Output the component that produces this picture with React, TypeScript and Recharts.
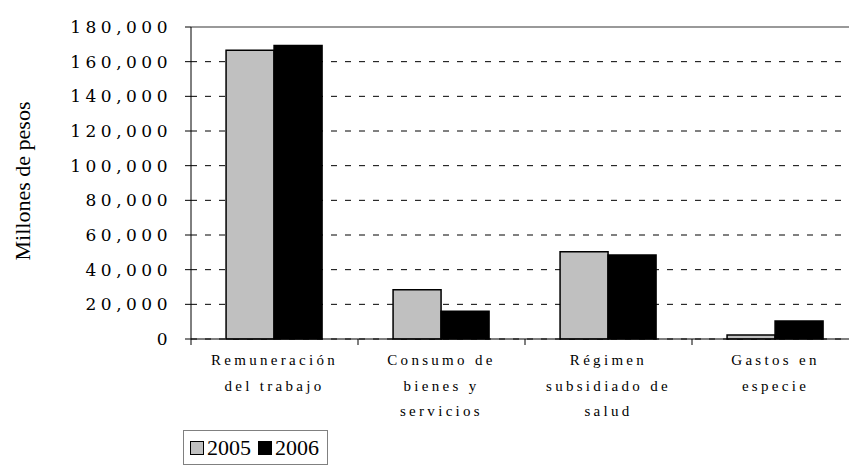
import React from 'react';
import {
  BarChart, Bar, XAxis, YAxis, CartesianGrid, ReferenceLine
} from 'recharts';

const categories = ['Remuneración del trabajo', 'Consumo de bienes y servicios', 'Régimen subsidiado de salud', 'Gastos en especie'];
const categoryLines = [
  ['Remuneración', 'del trabajo'],
  ['Consumo de', 'bienes y', 'servicios'],
  ['Régimen', 'subsidiado de', 'salud'],
  ['Gastos en', 'especie'],
];
const values2005 = [166600, 28400, 50400, 2300];
const values2006 = [169300, 16000, 48500, 10400];
const yTicks = [0, 20000, 40000, 60000, 80000, 100000, 120000, 140000, 160000, 180000];

const data = categories.map((c, i) => ({
  name: c,
  '2005': values2005[i],
  '2006': values2006[i],
}));

const CHART_W = 870;
const PLOT_LEFT = 191;
const MARGIN_RIGHT = 11;
const BAND = (CHART_W - PLOT_LEFT - MARGIN_RIGHT) / categories.length;
const SERIF = "'Liberation Serif', 'Times New Roman', serif";

const fmt = (v: number) => v.toLocaleString('en-US');

const CategoryTick = (props: any) => {
  const { x, y, index } = props;
  const lines = categoryLines[index] || [];
  const left = x - BAND / 2;
  return (
    <g>
      <line x1={left} x2={left} y1={y - 8} y2={y - 2} stroke="#000" strokeWidth={1} />
      {index === categories.length - 1 && (
        <line x1={left + BAND} x2={left + BAND} y1={y - 8} y2={y - 2} stroke="#000" strokeWidth={1} />
      )}
      <text
        x={x}
        y={y + 18}
        textAnchor="middle"
        style={{ fontFamily: SERIF, fontSize: 15, letterSpacing: 3.3 }}
        fill="#000"
      >
        {lines.map((l, i) => (
          <tspan key={i} x={x} dy={i === 0 ? 0 : 25.5}>{l}</tspan>
        ))}
      </text>
    </g>
  );
};

const YTick = (props: any) => {
  const { x, y, payload } = props;
  return (
    <text
      x={x}
      y={y}
      dy={6}
      textAnchor="end"
      style={{ fontFamily: "'DejaVu Serif', serif", fontSize: 17, letterSpacing: 4.5 }}
      fill="#000"
    >
      {fmt(payload.value)}
    </text>
  );
};

const YLabel = () => (
  <text
    x={0}
    y={0}
    transform="translate(30,181) rotate(-90)"
    textAnchor="middle"
    style={{ fontFamily: SERIF, fontSize: 22 }}
    fill="#000"
  >
    Millones de pesos
  </text>
);

const Swatch = ({ color }: { color: string }) => (
  <span style={{
    display: 'inline-block', width: 12, height: 12, background: color,
    border: '1px solid #000', marginRight: 3, verticalAlign: 'middle', position: 'relative', top: -2,
  }} />
);

export default function App() {
  return (
    <div style={{ position: 'fixed', left: 0, top: 0, width: 849, height: 468, overflow: 'hidden', background: '#fff' }}>
      <BarChart
        width={CHART_W}
        height={468}
        data={data}
        margin={{ top: 27, right: MARGIN_RIGHT, left: 0, bottom: 49 }}
        barCategoryGap="21%"
        barGap={0}
      >
        <CartesianGrid vertical={false} stroke="#000" strokeDasharray="6 8" />
        <ReferenceLine y={180000} stroke="#999" strokeWidth={2} />
        <XAxis
          dataKey="name"
          height={80}
          tickLine={false}
          axisLine={{ stroke: '#000' }}
          tick={<CategoryTick />}
          interval={0}
        />
        <YAxis
          width={PLOT_LEFT}
          domain={[0, 180000]}
          ticks={yTicks}
          tickSize={6}
          tickMargin={13}
          axisLine={{ stroke: '#000' }}
          tickLine={{ stroke: '#000' }}
          tick={<YTick />}
          interval={0}
          label={{ content: () => <YLabel /> }}
        />
        <Bar dataKey="2005" fill="#c0c0c0" stroke="#000" strokeWidth={1.5} isAnimationActive={false} />
        <Bar dataKey="2006" fill="#000" stroke="#000" strokeWidth={1.5} isAnimationActive={false} />
      </BarChart>
      <div style={{
        position: 'absolute', left: 183, top: 430, width: 145, height: 35,
        border: '1px solid #808080', fontFamily: SERIF, fontSize: 22,
        lineHeight: '34px', paddingLeft: 6, boxSizing: 'border-box', whiteSpace: 'nowrap', color: '#000',
      }}>
        <Swatch color="#c0c0c0" />2005
        <span style={{ display: 'inline-block', width: 7 }} />
        <Swatch color="#000" />2006
      </div>
    </div>
  );
}
